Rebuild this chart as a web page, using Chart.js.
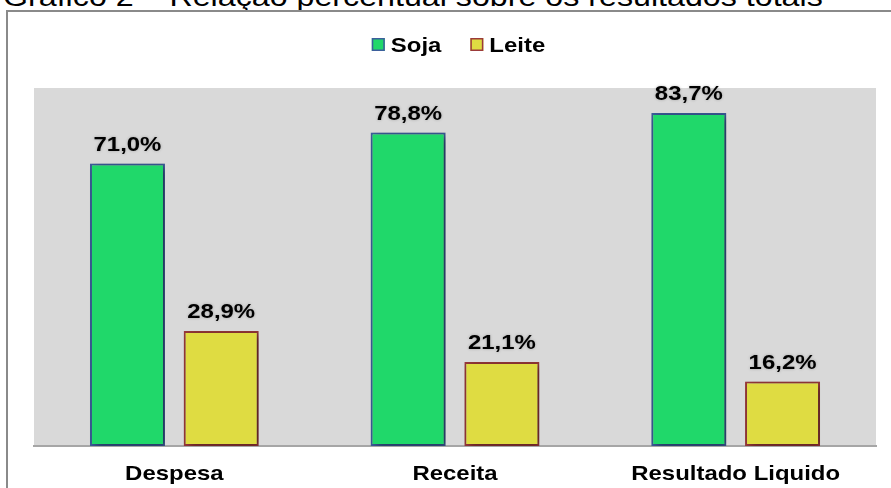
<!DOCTYPE html>
<html>
<head>
<meta charset="utf-8">
<script src="https://cdn.jsdelivr.net/npm/chart.js@4/dist/chart.umd.min.js"></script>
<style>
  html, body { margin: 0; padding: 0; background: #fff; overflow: hidden; }
  #wrap { position: relative; width: 891px; height: 488px; overflow: hidden; }
  #title {
    position: absolute; left: 3px; top: -17px; white-space: nowrap;
    font: 28px/28px "Liberation Sans", Arial, sans-serif; color: #000;
    transform: scaleX(1.15); transform-origin: 0 0;
  }
  #frame {
    position: absolute; left: 6px; top: 10px; width: 900px; height: 500px;
    border-left: 2px solid #8a8a8a; border-top: 2px solid #8a8a8a;
  }
  #chart { position: absolute; left: 0; top: 0; }
</style>
</head>
<body>
<div id="wrap">
  <div id="title">Gráfico 2 – Relação percentual sobre os resultados totais</div>
  <div id="frame"></div>
  <canvas id="chart" width="891" height="488"></canvas>
</div>
<script>
// data
const categories = ['Despesa', 'Receita', 'Resultado Liquido']
const sojaValues = [71.0, 78.8, 83.7]
const leiteValues = [28.9, 21.1, 16.2]

const FONT = '"Liberation Sans", Arial, sans-serif'
const BOLD = 'bold 21px ' + FONT
const STRETCH = 1.14 // text in the picture is a bit wide

function wideText(ctx, txt, x, y) {
  ctx.save()
  ctx.translate(x, y)
  ctx.scale(STRETCH, 1)
  ctx.fillText(txt, 0, 0)
  ctx.restore()
}

// gray plot background
const plotBackground = {
  id: 'plotBackground',
  beforeDraw(chart) {
    const { ctx, chartArea: a } = chart
    ctx.save()
    ctx.fillStyle = '#d9d9d9'
    ctx.fillRect(a.left, a.top, a.right - a.left, a.bottom - a.top)
    ctx.restore()
  }
}

// soft shadow under the bars
const barShadow = {
  id: 'barShadow',
  beforeDatasetsDraw(chart) {
    const ctx = chart.ctx
    ctx.save()
    ctx.shadowColor = 'rgba(0,0,0,0.5)'
    ctx.shadowBlur = 8
    ctx.shadowOffsetX = 3
    ctx.shadowOffsetY = 2
  },
  afterDatasetsDraw(chart) {
    chart.ctx.restore()
  }
}

// value labels, category labels and legend
const texts = {
  id: 'texts',
  afterDraw(chart) {
    const ctx = chart.ctx
    const xs = chart.scales.x
    ctx.save()
    ctx.font = BOLD
    ctx.fillStyle = '#000'
    ctx.textAlign = 'center'
    ctx.textBaseline = 'alphabetic'

    ctx.save()
    ctx.shadowColor = 'rgba(0,0,0,0.25)'
    ctx.shadowBlur = 3
    chart.data.datasets.forEach((ds, i) => {
      chart.getDatasetMeta(i).data.forEach((bar, j) => {
        const txt = ds.data[j].toFixed(1).replace('.', ',') + '%'
        wideText(ctx, txt, bar.x, bar.y - 13)
      })
    })
    ctx.restore()

    categories.forEach((c, i) => {
      wideText(ctx, c, xs.getPixelForValue(i), 480)
    })

    // legend
    const items = chart.data.datasets.map(ds => ({
      label: ds.label, fill: ds.backgroundColor, stroke: ds.borderColor,
      w: ctx.measureText(ds.label).width * STRETCH
    }))
    const box = 13, gapBox = 6, gapItem = 29
    let total = 0
    items.forEach((it, k) => { total += box + gapBox + it.w + (k ? gapItem : 0) })
    let x = 458.5 - total / 2
    ctx.textAlign = 'left'
    items.forEach(it => {
      ctx.fillStyle = it.fill
      ctx.fillRect(x, 38, box, box)
      ctx.strokeStyle = it.stroke
      ctx.lineWidth = 1.5
      ctx.strokeRect(x + 0.75, 38.75, box - 1.5, box - 1.5)
      ctx.fillStyle = '#000'
      wideText(ctx, it.label, x + box + gapBox, 51.5)
      x += box + gapBox + it.w + gapItem
    })
    ctx.restore()
  }
}

new Chart(document.getElementById('chart'), {
  type: 'bar',
  data: {
    labels: categories,
    datasets: [
      {
        label: 'Soja',
        data: sojaValues,
        backgroundColor: '#20d86a',
        borderColor: '#3c5e9c',
        borderWidth: 2,
        borderSkipped: false
      },
      {
        label: 'Leite',
        data: leiteValues,
        backgroundColor: '#dfdc42',
        borderColor: '#9b3a3a',
        borderWidth: 2,
        borderSkipped: false
      }
    ]
  },
  options: {
    responsive: false,
    animation: false,
    events: [],
    layout: { padding: { left: 34, right: 15, top: 88, bottom: 42 } },
    categoryPercentage: 0.668,
    barPercentage: 0.8,
    scales: {
      x: {
        grid: { display: false, drawTicks: false },
        border: { color: '#a6a6a6', width: 2 },
        ticks: { display: false }
      },
      y: { display: false, min: 0, max: 90 }
    },
    plugins: {
      legend: { display: false },
      tooltip: { enabled: false }
    }
  },
  plugins: [plotBackground, barShadow, texts]
})
</script>
</body>
</html>
